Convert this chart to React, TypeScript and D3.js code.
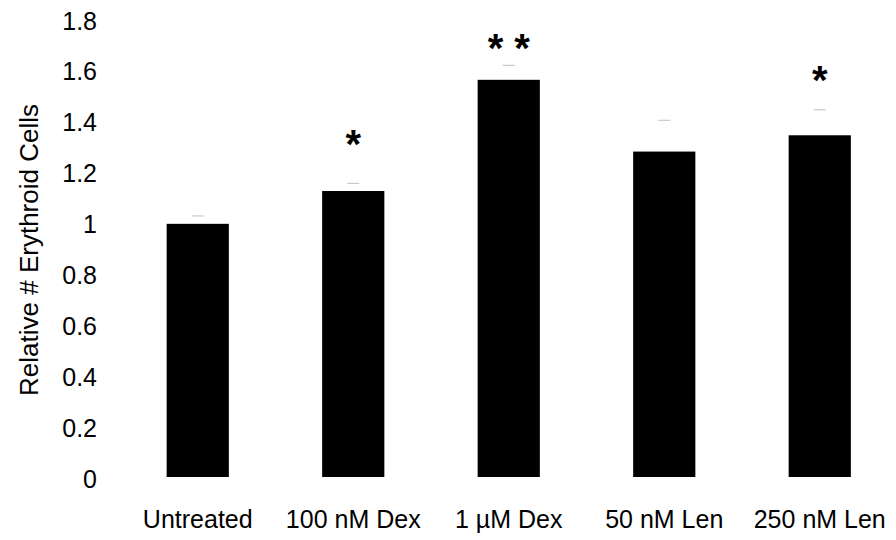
import React from "react";
import * as d3 from "d3";

const categories = ["Untreated", "100 nM Dex", "1 µM Dex", "50 nM Len", "250 nM Len"];
const values = [0.995, 1.124, 1.561, 1.279, 1.343];
const errorTops = [1.026, 1.154, 1.618, 1.402, 1.443];
const stars = ["", "*", "* *", "", "*"];
const starValues = [0, 1.255, 1.63, 0, 1.505];
const yTicks = [0, 0.2, 0.4, 0.6, 0.8, 1, 1.2, 1.4, 1.6, 1.8];

const W = 896;
const H = 540;

export default function App() {
  const x = d3.scaleBand<string>().domain(categories).range([120, 897.5]).paddingInner(0.6).paddingOuter(0.3);
  const y = d3.scaleLinear().domain([0, 1.8]).range([477, 19]);
  const font = "Liberation Sans, Arial, sans-serif";
  return (
    <svg width={W} height={H} style={{ position: "absolute", left: 0, top: 0 }} fontFamily={font}>
      <rect width={W} height={H} fill="#fff" />
      {yTicks.map((t) => (
        <text key={t} x={97} y={y(t) + 4} textAnchor="end" dominantBaseline="middle" fontSize={25} fill="#000">
          {String(t)}
        </text>
      ))}
      <text transform={`translate(31,${y(0.9) + 2}) rotate(-90)`} textAnchor="middle" dominantBaseline="middle" fontSize={26} fill="#000">
        Relative # Erythroid Cells
      </text>
      {categories.map((c, i) => {
        const bx = x(c)!;
        const bw = x.bandwidth();
        const cx = bx + bw / 2;
        return (
          <g key={c}>
            <rect x={bx} y={y(values[i])} width={bw} height={y(0) - y(values[i])} fill="#000" />
            <line x1={cx - 6} x2={cx + 6} y1={y(errorTops[i])} y2={y(errorTops[i])} stroke="#bfbfbf" strokeWidth={1} />
            {stars[i] && (
              <text x={cx} y={y(starValues[i])} textAnchor="middle" fontSize={40} fontWeight="bold" fill="#000">
                {stars[i]}
              </text>
            )}
            <text x={cx} y={528} textAnchor="middle" fontSize={25} fill="#000">
              {c}
            </text>
          </g>
        );
      })}
    </svg>
  );
}
